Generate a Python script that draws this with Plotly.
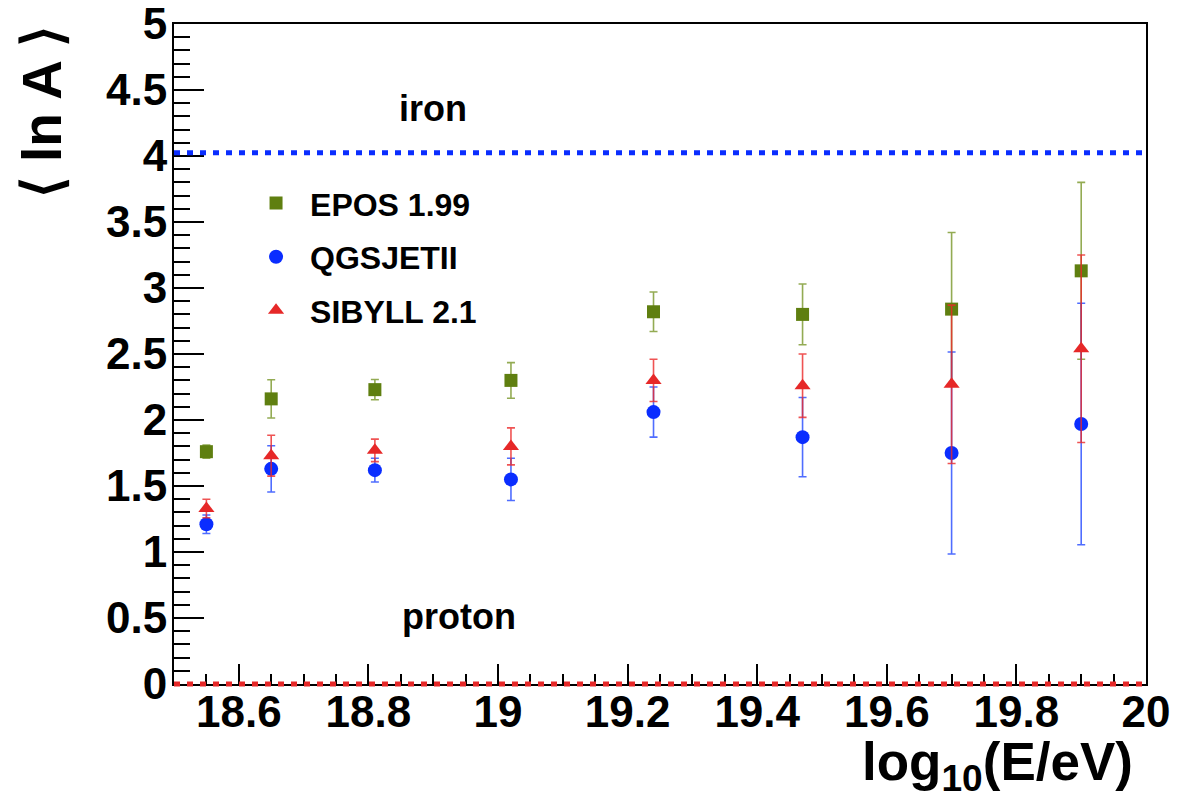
import numpy as np
import plotly.graph_objects as go

# ---- data ----
log_e = [18.55, 18.65, 18.81, 19.02, 19.24, 19.47, 19.70, 19.90]

epos_lnA = [1.76, 2.16, 2.23, 2.30, 2.82, 2.80, 2.84, 3.13]
epos_err = [0.05, 0.145, 0.077, 0.135, 0.15, 0.23, 0.58, 0.67]

qgsjet_lnA = [1.21, 1.63, 1.62, 1.55, 2.06, 1.87, 1.75, 1.97]
qgsjet_err = [0.07, 0.175, 0.09, 0.16, 0.19, 0.30, 0.765, 0.915]

sibyll_lnA = [1.33, 1.73, 1.77, 1.80, 2.30, 2.26, 2.27, 2.54]
sibyll_err = [0.07, 0.155, 0.085, 0.14, 0.16, 0.24, 0.60, 0.71]

series_names = ["EPOS 1.99", "QGSJETII", "SIBYLL 2.1"]
iron_lnA = np.log(56.0)
proton_lnA = 0.0

x_range = [18.5, 20.0]
y_range = [0.0, 5.0]

GREEN = "#5f7f10"
BLUE = "#0a2dff"
RED = "#e62828"
FONT = "Liberation Sans"

fig = go.Figure()

def add_series(x, y, err, name, color, symbol, size, errcolor, group):
    fig.add_trace(go.Scatter(
        x=x, y=y, mode="markers", name=name,
        legendgroup=group,
        marker=dict(symbol=symbol, size=size, color=color, line=dict(width=0)),
        error_y=dict(type="data", array=err, visible=True, color=errcolor,
                     thickness=1.6, width=4),
    ))

add_series(log_e, epos_lnA, epos_err, series_names[0], GREEN, "square", 13,
           "rgba(120,150,40,0.8)", "g1")
add_series(log_e, qgsjet_lnA, qgsjet_err, series_names[1], BLUE, "circle", 14,
           "rgba(20,60,255,0.75)", "g2")
add_series(log_e, sibyll_lnA, sibyll_err, series_names[2], RED, "triangle-up", 14,
           "rgba(235,40,40,0.8)", "g3")

# iron line
fig.add_shape(type="line", xref="x", yref="y", x0=x_range[0], x1=x_range[1],
              y0=iron_lnA, y1=iron_lnA, layer="above",
              line=dict(color="#0a2dff", width=5, dash="6px,7px"))
# proton line (on the x axis, unclipped vertically)
proton_paper = (proton_lnA - y_range[0]) / (y_range[1] - y_range[0])
fig.add_shape(type="line", xref="x", yref="paper", x0=x_range[0], x1=x_range[1],
              y0=proton_paper, y1=proton_paper, layer="above",
              line=dict(color="#e62828", width=5, dash="6px,7px"))

fig.add_annotation(x=18.90, y=4.36, xref="x", yref="y", text="iron", showarrow=False,
                   font=dict(family=FONT, size=36, color="black", weight="bold"))
fig.add_annotation(x=18.94, y=0.51, xref="x", yref="y", text="proton", showarrow=False,
                   font=dict(family=FONT, size=36, color="black", weight="bold"))

# axis titles
fig.add_annotation(x=-0.135, y=0.866, xref="paper", yref="paper", text="⟨ ln A ⟩",
                   textangle=-90, showarrow=False, xanchor="center", yanchor="middle",
                   font=dict(family=FONT, size=55, color="black", weight="bold"))
fig.add_annotation(x=0.989, y=-0.069, xref="paper", yref="paper",
                   text="log<sub>10</sub>(E/eV)", showarrow=False,
                   xanchor="right", yanchor="top",
                   font=dict(family=FONT, size=53, color="black", weight="bold"))

fig.update_xaxes(
    range=x_range, showline=True, linecolor="black", linewidth=2, mirror=True,
    showgrid=False, zeroline=False, automargin=False, ticklabeloverflow="allow",
    ticks="inside", tick0=18.6, dtick=0.2, ticklen=20, tickwidth=2, tickcolor="black",
    ticklabelstandoff=-12,
    minor=dict(ticks="inside", dtick=0.05, ticklen=10, tickwidth=2, tickcolor="black"),
    tickfont=dict(family=FONT, size=44, color="black", weight="bold"),
)
fig.update_yaxes(
    range=y_range, showline=True, linecolor="black", linewidth=2, mirror=True,
    showgrid=False, zeroline=False, automargin=False, ticklabeloverflow="allow",
    ticks="inside", tick0=0, dtick=0.5, ticklen=30, tickwidth=2, tickcolor="black",
    ticklabelstandoff=-4,
    minor=dict(ticks="inside", dtick=0.1, ticklen=16, tickwidth=2, tickcolor="black"),
    tickfont=dict(family=FONT, size=44, color="black", weight="bold"),
)

fig.update_layout(
    width=1177, height=811,
    margin=dict(l=174, r=31, t=24, b=127),
    paper_bgcolor="white", plot_bgcolor="white",
    showlegend=True,
    legend=dict(x=0.07, y=0.77, xanchor="left", yanchor="top",
                bgcolor="rgba(0,0,0,0)", borderwidth=0,
                itemwidth=58, tracegroupgap=9,
                font=dict(family=FONT, size=32, color="black", weight="bold")),
)

# remove the page's default body margin so the figure fills the window exactly
fig.write_html("out.html", config={"displayModeBar": False},
               post_script="document.body.style.margin='0';document.body.style.overflow='hidden';")
